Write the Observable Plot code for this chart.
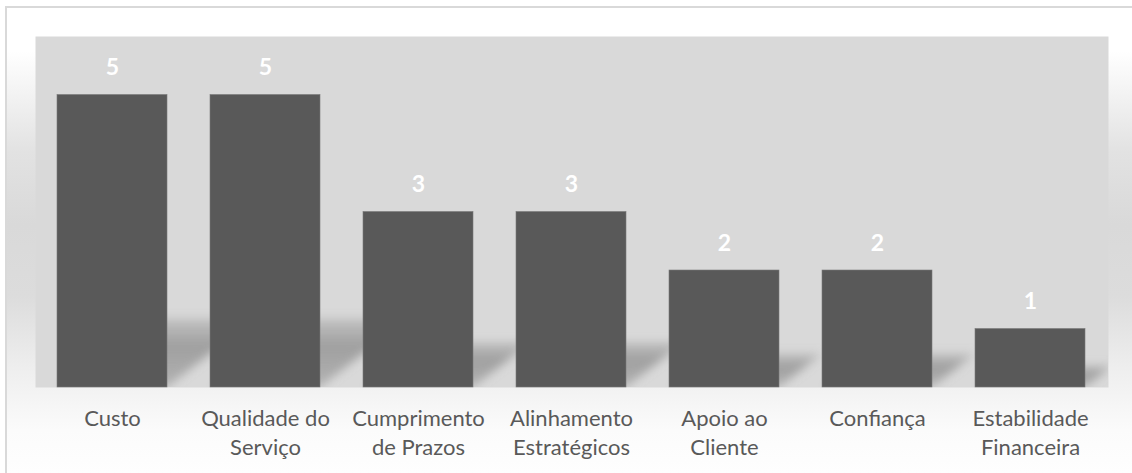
<!DOCTYPE html>
<html>
<head>
<meta charset="utf-8">
<script src="https://cdn.jsdelivr.net/npm/d3@7"></script>
<script src="https://cdn.jsdelivr.net/npm/@observablehq/plot@0.6"></script>
<style>
  html, body { margin: 0; padding: 0; background: #fff; }
  #wrap {
    position: relative; width: 1132px; height: 473px; overflow: hidden;
  }
  #bg {
    position: absolute; left: 5px; top: 6px; width: 1140px; height: 480px;
    border-left: 2px solid #d9d9d9; border-top: 2px solid #d9d9d9;
    background: linear-gradient(to bottom, #ffffff 0%, #ffffff 9%, #e2e2e2 30%, #d9d9d9 45%, #dcdcdc 60%, #eeeeee 75%, #fbfbfb 88%, #ffffff 100%);
  }
  #chart { position: absolute; left: 0; top: 0; }
  #chart svg { font-family: Lato, "Open Sans", sans-serif; background: transparent; }
</style>
</head>
<body>
<div id="wrap"><div id="bg"></div><div id="chart"></div></div>
<script>
const categories = ["Custo", "Qualidade do Serviço", "Cumprimento de Prazos", "Alinhamento Estratégicos", "Apoio ao Cliente", "Confiança", "Estabilidade Financeira"];
const values = [5, 5, 3, 3, 2, 2, 1];
const tickLabels = ["Custo", "Qualidade do\nServiço", "Cumprimento\nde Prazos", "Alinhamento\nEstratégicos", "Apoio ao\nCliente", "Confiança", "Estabilidade\nFinanceira"];

const data = categories.map((c, i) => ({category: c, value: values[i]}));

function shadows(index, scales, channels, dimensions) {
  const {marginLeft, marginRight, marginTop, marginBottom, width, height} = dimensions;
  const g = d3.create("svg:g");
  const defs = g.append("defs");
  defs.append("filter").attr("id", "shblur").attr("x", "-50%").attr("y", "-50%").attr("width", "200%").attr("height", "200%")
    .append("feGaussianBlur").attr("stdDeviation", 5);
  const grad = defs.append("linearGradient").attr("id", "shgrad").attr("x1", 0).attr("y1", 1).attr("x2", 0).attr("y2", 0);
  grad.append("stop").attr("offset", "0%").attr("stop-color", "#8c8c8c").attr("stop-opacity", 0.5);
  grad.append("stop").attr("offset", "60%").attr("stop-color", "#8c8c8c").attr("stop-opacity", 0.75);
  grad.append("stop").attr("offset", "100%").attr("stop-color", "#8c8c8c").attr("stop-opacity", 0.3);
  defs.append("clipPath").attr("id", "plotclip").append("rect")
    .attr("x", marginLeft).attr("y", marginTop)
    .attr("width", width - marginLeft - marginRight).attr("height", height - marginTop - marginBottom);
  const gg = g.append("g").attr("clip-path", "url(#plotclip)");
  const bw = scales.x.bandwidth();
  const y0 = scales.y(0);
  for (const d of data) {
    const x0 = scales.x(d.category), x1 = x0 + bw;
    const H = y0 - scales.y(d.value);
    const h = 0.2 * H + 10;
    const dx = 1.3 * h;
    gg.append("polygon")
      .attr("points", [[x0 + 4, y0], [x1, y0], [x1 + dx, y0 - h], [x0 + 4 + dx, y0 - h]].map(p => p.join(",")).join(" "))
      .attr("fill", "url(#shgrad)")
      .attr("filter", "url(#shblur)");
  }
  return g.node();
}

const chart = Plot.plot({
  width: 1132,
  height: 473,
  marginLeft: 35,
  marginRight: 24,
  marginTop: 36,
  marginBottom: 86,
  style: {background: "transparent", fontFamily: "Lato, 'Open Sans', sans-serif"},
  x: {domain: categories, paddingInner: 0.28, paddingOuter: 0.14, axis: null},
  y: {domain: [0, 6], axis: null},
  marks: [
    Plot.frame({fill: "#d9d9d9", stroke: null}),
    shadows,
    Plot.barY(data, {x: "category", y: "value", fill: "#595959", stroke: "#7a7a7a", strokeWidth: 0.6}),
    Plot.text(data, {x: "category", y: "value", text: d => String(d.value), dy: -27, fill: "#ffffff", fontWeight: "bold", fontSize: 23}),
    Plot.axisX({
      tickSize: 0,
      tickPadding: 18,
      tickFormat: d => tickLabels[categories.indexOf(d)],
      lineHeight: 1.32,
      fontSize: 22,
      fill: "#595959",
      label: null
    })
  ]
});
document.getElementById("chart").appendChild(chart);
</script>
</body>
</html>
